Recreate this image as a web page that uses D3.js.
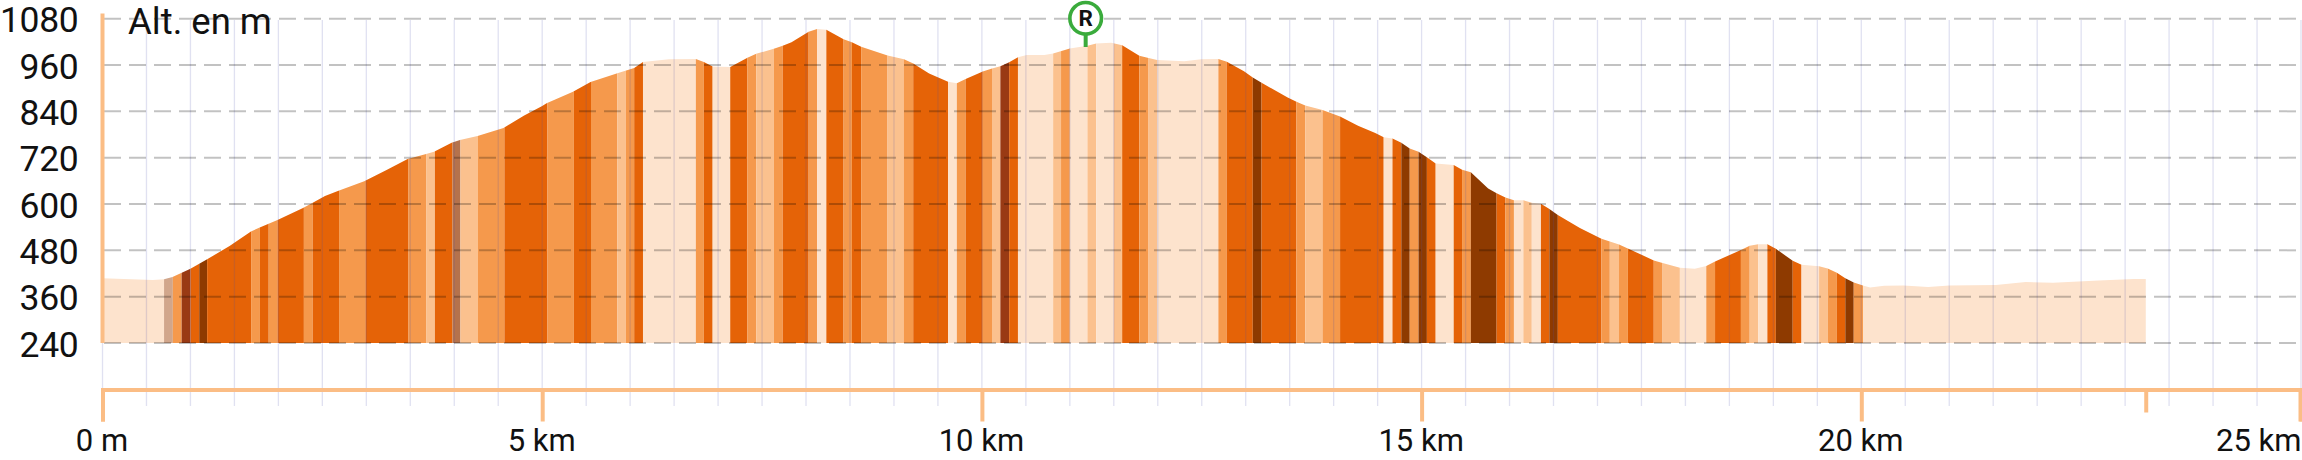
<!DOCTYPE html>
<html><head><meta charset="utf-8">
<style>html,body{margin:0;padding:0;background:#fff}svg{display:block}text{font-family:Roboto,sans-serif;fill:#111}</style>
<script src="https://cdn.jsdelivr.net/npm/d3@7"></script></head><body>
<script>
const profileKm=[0,0.574,0.70,0.796,1.0,1.19,1.445,1.688,1.788,1.99,2.28,2.38,2.53,2.676,2.976,3.23,3.47,3.67,3.77,3.97,4.065,4.265,4.56,4.795,5.0,5.05,5.35,5.55,5.855,6.046,6.146,6.442,6.747,6.838,6.938,7.138,7.334,7.434,7.634,7.735,7.835,8.03,8.126,8.231,8.427,8.522,8.627,8.927,9.114,9.219,9.40,9.615,9.715,9.815,10.01,10.115,10.21,10.31,10.41,10.51,10.71,10.81,11.0,11.2,11.3,11.47,11.595,11.79,11.895,11.993,12.30,12.493,12.689,12.785,12.98,13.08,13.18,13.477,13.577,13.677,13.873,14.073,14.277,14.473,14.569,14.669,14.769,14.865,14.965,15.06,15.16,15.365,15.46,15.56,15.757,15.853,15.953,16.05,16.157,16.253,16.357,16.453,16.549,16.8,17.045,17.245,17.345,17.64,17.74,17.937,18.107,18.237,18.337,18.631,18.731,18.827,18.932,19.028,19.22,19.32,19.52,19.618,19.722,19.818,19.914,20.019,20.10,20.26,20.48,20.76,21.0,21.53,21.87,22.18,22.7,23.1,23.236];
const profileAlt=[407.5,403,405,411,432,457,491,529,539,558.5,590,602,621,634,659,688,716.5,729,735.5,759,766,776,797,829,854,861,891,916,939,952,968,975,975.5,968,956.5,955,979,989,1002,1010,1019,1046,1053,1051.5,1026.5,1019,1007.5,985,975,964,938,917,913,924,943.5,951,957,967,980,986,986,990,1003,1010,1016,1018,1011,984,978,973,970,975,975.5,968.6,944,928,914,876,865,855,843.5,827,803,784,773,770,759,744,735.5,721,705,701,689,682,640.5,628,617,610,609.5,603.5,601,587,571.5,538,510,495,485,454,447,435,432.5,439.5,451,481,492,496,496,484,453,443,439,433,422,408,397,389,384,388,389,385,389,390,398,396,402,406,406];
const bandEnds=[0.70,0.80,0.90,1.00,1.10,1.19,1.69,1.79,1.89,1.99,2.29,2.39,2.69,2.99,3.48,3.68,3.78,3.98,4.07,4.27,4.57,5.06,5.36,5.555,5.855,5.95,6.046,6.146,6.747,6.838,6.938,7.138,7.334,7.434,7.634,7.735,8.03,8.126,8.231,8.427,8.522,8.627,8.927,9.114,9.219,9.615,9.715,9.815,10.01,10.115,10.21,10.31,10.41,10.81,10.90,11.0,11.2,11.3,11.5,11.595,11.79,11.895,11.993,12.689,12.785,13.08,13.18,13.577,13.677,13.873,14.073,14.569,14.669,14.769,14.865,14.965,15.06,15.16,15.365,15.46,15.56,15.853,15.953,16.05,16.157,16.253,16.357,16.453,16.549,17.045,17.14,17.245,17.345,17.64,17.74,17.937,18.237,18.337,18.631,18.731,18.827,18.932,19.028,19.22,19.32,19.52,19.618,19.722,19.818,19.914,20.019,23.236];
const bandClass=[0,5,2,6,3,4,3,2,3,2,3,2,3,2,3,2,1,3,7,1,2,3,2,3,2,1,2,3,0,2,3,0,3,2,1,2,3,2,0,3,2,3,2,1,2,3,0,2,3,2,1,6,3,0,1,2,0,1,0,1,3,2,1,0,2,3,4,3,2,1,2,3,0,3,4,2,4,3,0,3,2,4,3,2,0,1,0,3,4,3,2,1,2,3,2,1,0,2,3,2,1,0,3,4,3,0,1,2,3,4,2,0];
const bandColors=["#fde3cd","#fbc18e","#f5994c","#e56307","#8e3a00","#d1a68b","#993a14","#b5724c"];
const yTicks=[240,360,480,600,720,840,960,1080];
const xMajor=[0,5,10,15,20,25];
const xTotal=23.24;
const xMinor=d3.range(0,25.01,0.5);
const markerKm=11.18, markerLabel="R", axisTitle="Alt. en m";

const W=2302,H=460;
const x=d3.scaleLinear().domain([0,25]).range([102.5,2301]);
const y=d3.scaleLinear().domain([240,1080]).range([343,18.7]);
const svg=d3.select("body").append("svg").attr("width",W).attr("height",H);
const pts=profileKm.map((k,i)=>[k,profileAlt[i]]);
const area=d3.area().x(d=>x(d[0])).y0(y(240)).y1(d=>y(d[1]));
svg.append("clipPath").attr("id","prof").append("path").attr("d",area(pts));
const starts=[0,...bandEnds.slice(0,-1)];
svg.append("g").attr("clip-path","url(#prof)").selectAll("rect").data(bandEnds).join("rect")
  .attr("x",(d,i)=>x(starts[i])).attr("width",(d,i)=>x(d)-x(starts[i]))
  .attr("y",y(1080)).attr("height",y(240)-y(1080))
  .attr("fill",(d,i)=>bandColors[bandClass[i]]);
// vertical grid
svg.append("g").selectAll("line").data(xMinor).join("line")
  .attr("x1",d=>x(d)).attr("x2",d=>x(d)).attr("y1",20).attr("y2",406)
  .attr("stroke","rgba(70,80,170,.17)").attr("stroke-width",1.3);
// horizontal grid
svg.append("g").selectAll("line").data(yTicks).join("line")
  .attr("x1",104).attr("x2",W).attr("y1",d=>y(d)).attr("y2",d=>y(d))
  .attr("stroke","rgba(0,0,0,.24)").attr("stroke-width",2).attr("stroke-dasharray","17 8");
// y axis
const ya=svg.append("g").attr("transform","translate(102.5,0)").call(d3.axisLeft(y).tickValues(yTicks).tickSize(0).tickPadding(24).tickFormat(d3.format("d")));
ya.select(".domain").remove();
ya.selectAll("text").attr("font-size",35.5).attr("dy",13).attr("letter-spacing",-0.3).style("font-family","Roboto,sans-serif").attr("fill","#111");
svg.append("line").attr("x1",x(0)).attr("x2",x(0)).attr("y1",13.5).attr("y2",343).attr("stroke","#fbbd85").attr("stroke-width",4);
// x axis
const xa=svg.append("g").attr("transform","translate(0,389.5)").call(d3.axisBottom(x).tickValues(xMajor).tickSize(32).tickPadding(0).tickFormat(d=>d===0?"0 m":d+" km"));
xa.select(".domain").attr("stroke","#fbbd85").attr("stroke-width",4);
xa.selectAll("line").attr("stroke","#fbbd85").attr("stroke-width",4);
xa.selectAll("text").attr("font-size",31).attr("y",61).attr("dy",0).attr("dx",-1).style("font-family","Roboto,sans-serif").attr("fill","#111");
xa.selectAll(".tick").filter(d=>d===25).select("text").attr("text-anchor","end").attr("dx",0);
xa.selectAll(".tick").filter(d=>d===25).select("line").attr("transform","translate(-1,0)");
svg.append("g").attr("transform","translate(0,389.5)").selectAll("line").data([xTotal]).join("line")
  .attr("x1",d=>x(d)).attr("x2",d=>x(d)).attr("y1",0).attr("y2",23).attr("stroke","#fbbd85").attr("stroke-width",4);
// title
svg.append("text").attr("x",128).attr("y",34).attr("font-size",36.5).text(axisTitle);
// marker
const mx=x(markerKm);
svg.append("line").attr("x1",mx).attr("x2",mx).attr("y1",32).attr("y2",47).attr("stroke","#3aab3c").attr("stroke-width",4);
svg.append("circle").attr("cx",mx).attr("cy",18.3).attr("r",15.8).attr("fill","#fff").attr("stroke","#3aab3c").attr("stroke-width",3.6);
svg.append("text").attr("x",mx).attr("y",26.3).attr("text-anchor","middle").attr("font-size",22.5).attr("font-weight",700).text(markerLabel);
</script></body></html>
